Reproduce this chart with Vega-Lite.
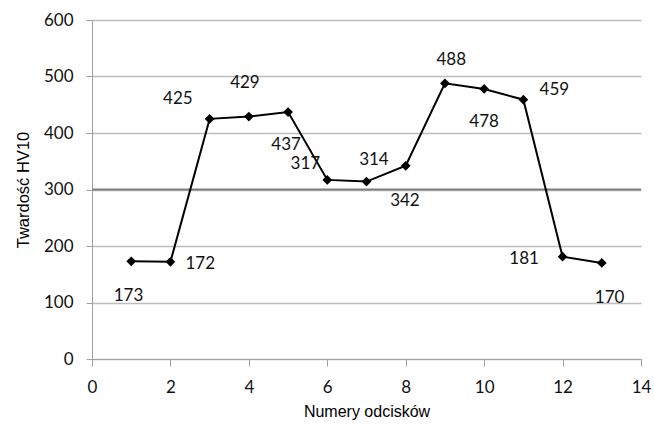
{
  "$schema": "https://vega.github.io/schema/vega-lite/v6.json",
  "width": 549,
  "height": 339,
  "autosize": {"type": "none"},
  "padding": {"left": 92, "top": 20, "right": 13, "bottom": 65},
  "background": "white",
  "config": {"view": {"stroke": null}},
  "data": {"values": [
    {"n": 1, "hv": 173, "lx": 0.93, "ly": 112},
    {"n": 2, "hv": 172, "lx": 2.76, "ly": 169},
    {"n": 3, "hv": 425, "lx": 2.19, "ly": 460},
    {"n": 4, "hv": 429, "lx": 3.9, "ly": 488},
    {"n": 5, "hv": 437, "lx": 4.95, "ly": 378},
    {"n": 6, "hv": 317, "lx": 5.44, "ly": 346},
    {"n": 7, "hv": 314, "lx": 7.19, "ly": 353},
    {"n": 8, "hv": 342, "lx": 7.98, "ly": 279},
    {"n": 9, "hv": 488, "lx": 9.16, "ly": 529},
    {"n": 10, "hv": 478, "lx": 10.0, "ly": 419},
    {"n": 11, "hv": 459, "lx": 11.79, "ly": 476},
    {"n": 12, "hv": 181, "lx": 11.02, "ly": 177},
    {"n": 13, "hv": 170, "lx": 13.2, "ly": 108}
  ]},
  "encoding": {
    "x": {"field": "n", "type": "quantitative",
      "scale": {"domain": [0, 14], "nice": false, "zero": false},
      "axis": {"values": [0, 2, 4, 6, 8, 10, 12, 14], "grid": false, "title": "Numery odcisków",
        "titleFont": "Liberation Sans", "titleFontSize": 16, "titleFontWeight": "normal", "titleColor": "#000",
        "titlePadding": 8, "labelFont": "Lato", "labelFontSize": 17, "labelColor": "#111", "labelPadding": 13,
        "domainColor": "#a0a0a0", "tickColor": "#a0a0a0", "tickSize": 7, "labelFlush": false}},
    "y": {"field": "hv", "type": "quantitative",
      "scale": {"domain": [0, 600], "nice": false},
      "axis": {"values": [0, 100, 200, 300, 400, 500, 600], "grid": true, "gridColor": "#bdbdbd", "gridWidth": 1.5,
        "title": "Twardość HV10", "titleFont": "Liberation Sans", "titleFontSize": 16.5, "titleFontWeight": "normal", "titleColor": "#000",
        "titlePadding": 12, "labelFont": "Lato", "labelFontSize": 17, "labelColor": "#111", "labelPadding": 13,
        "domainColor": "#a0a0a0", "tickColor": "#a0a0a0", "tickSize": 6}}
  },
  "layer": [
    {"mark": {"type": "rule", "color": "#7f7f7f", "strokeWidth": 2},
     "data": {"values": [{"v": 300}]},
     "encoding": {"y": {"field": "v", "type": "quantitative"}, "x": null}},
    {"mark": {"type": "line", "color": "#000", "strokeWidth": 2}},
    {"mark": {"type": "point", "shape": "diamond", "filled": true, "color": "#000", "size": 95, "opacity": 1}},
    {"mark": {"type": "text", "font": "Lato", "fontSize": 17, "color": "#111"},
     "encoding": {"x": {"field": "lx", "type": "quantitative"}, "y": {"field": "ly", "type": "quantitative"},
       "text": {"field": "hv", "type": "quantitative"}}}
  ]
}
